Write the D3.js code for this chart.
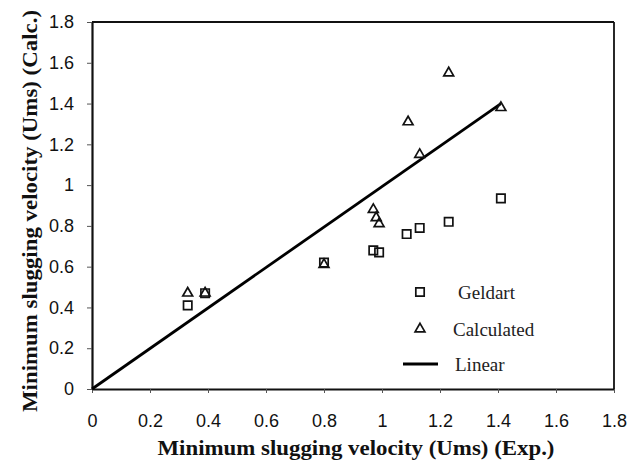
<!DOCTYPE html>
<html>
<head>
<meta charset="utf-8">
<script src="https://cdn.jsdelivr.net/npm/d3@7"></script>
<style>
  body { margin: 0; background: #fff; }
  .tick text { font-family: "Liberation Sans", Arial, sans-serif; font-size: 18px; fill: #111; }
</style>
</head>
<body>
<div id="chart"></div>
<script>
// Data
const geldartX = [0.33, 0.39, 0.80, 0.97, 0.99, 1.085, 1.13, 1.23, 1.41];
const geldartY = [0.41, 0.47, 0.62, 0.68, 0.67, 0.76, 0.79, 0.82, 0.935];

const calcX = [0.33, 0.39, 0.80, 0.97, 0.98, 0.99, 1.13, 1.09, 1.23, 1.41];
const calcY = [0.47, 0.47, 0.61, 0.88, 0.84, 0.81, 1.15, 1.31, 1.55, 1.38];

const linearX = [0, 1.41];
const linearY = [0, 1.40];

const tickValues = [0, 0.2, 0.4, 0.6, 0.8, 1, 1.2, 1.4, 1.6, 1.8];
const legendLabels = ["Geldart", "Calculated", "Linear"];

const xTitle = "Minimum slugging velocity (Ums) (Exp.)";
const yTitle = "Minimum slugging velocity (Ums) (Calc.)";

// Set up the svg
const svg = d3.select("#chart")
  .append("svg")
  .attr("width", 644)
  .attr("height", 465);

const plotLeft = 92, plotRight = 614, plotTop = 22, plotBottom = 389;

const x = d3.scaleLinear().domain([0, 1.8]).range([plotLeft, plotRight]);
const y = d3.scaleLinear().domain([0, 1.8]).range([plotBottom, plotTop]);

const fmt = d => String(+d.toFixed(1));

// Frame (top and right)
svg.append("line")
  .attr("x1", plotLeft).attr("x2", plotRight)
  .attr("y1", plotTop).attr("y2", plotTop)
  .attr("stroke", "#111").attr("stroke-width", 1.8);
svg.append("line")
  .attr("x1", plotRight).attr("x2", plotRight)
  .attr("y1", plotTop).attr("y2", plotBottom)
  .attr("stroke", "#111").attr("stroke-width", 1.8);

// Axes
const xAxis = svg.append("g")
  .attr("transform", `translate(0, ${plotBottom})`)
  .call(d3.axisBottom(x).tickValues(tickValues).tickFormat(fmt)
    .tickSize(4).tickSizeOuter(0).tickPadding(21));

const yAxis = svg.append("g")
  .attr("transform", `translate(${plotLeft}, 0)`)
  .call(d3.axisLeft(y).tickValues(tickValues).tickFormat(fmt)
    .tickSize(5).tickSizeOuter(0).tickPadding(13));

[xAxis, yAxis].forEach(a => {
  a.select(".domain").attr("stroke", "#111").attr("stroke-width", 2.2);
  a.selectAll(".tick line").attr("stroke", "#555").attr("stroke-width", 1);
});

// Axis titles
svg.append("text")
  .attr("x", 356)
  .attr("y", 455)
  .attr("text-anchor", "middle")
  .attr("textLength", 397)
  .attr("lengthAdjust", "spacingAndGlyphs")
  .style("font-family", "'Liberation Serif', 'Times New Roman', serif")
  .style("font-weight", "bold")
  .style("font-size", "22px")
  .attr("fill", "#111")
  .text(xTitle);

svg.append("text")
  .attr("transform", "rotate(-90)")
  .attr("x", -211)
  .attr("y", 37)
  .attr("text-anchor", "middle")
  .attr("textLength", 402)
  .attr("lengthAdjust", "spacingAndGlyphs")
  .style("font-family", "'Liberation Serif', 'Times New Roman', serif")
  .style("font-weight", "bold")
  .style("font-size", "22px")
  .attr("fill", "#111")
  .text(yTitle);

// Linear line
const lineData = linearX.map((v, i) => [v, linearY[i]]);
svg.append("path")
  .datum(lineData)
  .attr("fill", "none")
  .attr("stroke", "#000")
  .attr("stroke-width", 2.8)
  .attr("d", d3.line().x(d => x(d[0])).y(d => y(d[1])));

// Markers
const square = d3.symbol().type(d3.symbolSquare).size(70);
const triangle = d3.symbol().type(d3.symbolTriangle).size(42);

svg.append("g").selectAll("path")
  .data(geldartX.map((v, i) => [v, geldartY[i]]))
  .join("path")
  .attr("d", square)
  .attr("transform", d => `translate(${x(d[0])}, ${y(d[1])})`)
  .attr("fill", "none")
  .attr("stroke", "#111")
  .attr("stroke-width", 1.7);

svg.append("g").selectAll("path")
  .data(calcX.map((v, i) => [v, calcY[i]]))
  .join("path")
  .attr("d", triangle)
  .attr("transform", d => `translate(${x(d[0])}, ${y(d[1])})`)
  .attr("fill", "none")
  .attr("stroke", "#111")
  .attr("stroke-width", 1.7);

// Legend
const legendX = 420;
const legendRows = [292, 329, 364];
const legendTextX = [458, 453, 455];

svg.append("path")
  .attr("d", square)
  .attr("transform", `translate(${legendX}, ${legendRows[0]})`)
  .attr("fill", "none").attr("stroke", "#111").attr("stroke-width", 1.7);
svg.append("path")
  .attr("d", triangle)
  .attr("transform", `translate(${legendX}, ${legendRows[1]})`)
  .attr("fill", "none").attr("stroke", "#111").attr("stroke-width", 1.7);
svg.append("line")
  .attr("x1", legendX - 17).attr("x2", legendX + 18)
  .attr("y1", legendRows[2]).attr("y2", legendRows[2])
  .attr("stroke", "#000").attr("stroke-width", 2.8);

svg.append("g").selectAll("text")
  .data(legendLabels)
  .join("text")
  .attr("x", (d, i) => legendTextX[i])
  .attr("y", (d, i) => legendRows[i] + 7)
  .style("font-family", "'Liberation Serif', 'Times New Roman', serif")
  .style("font-size", "19px")
  .attr("fill", "#222")
  .text(d => d);
</script>
</body>
</html>
